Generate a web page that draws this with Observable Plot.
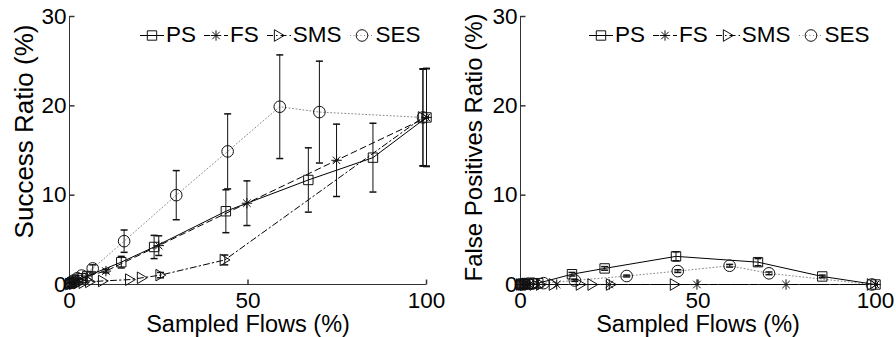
<!DOCTYPE html>
<html><head><meta charset="utf-8">
<script src="https://cdn.jsdelivr.net/npm/d3@7"></script>
<script src="https://cdn.jsdelivr.net/npm/@observablehq/plot@0.6"></script>
<style>
body{margin:0;background:#fff;font-family:"Liberation Sans",Arial,sans-serif;}
#wrap{position:relative;width:896px;height:337px;display:flex;}
.legend{position:absolute;top:23px;display:flex;align-items:center;font-size:22.5px;line-height:24px;white-space:nowrap;color:#000;}
.item{display:flex;align-items:center;margin-right:8px}
.item svg{margin-right:2px;overflow:visible}
</style></head><body><div id="wrap"></div>
<script>
// ---------- data ----------
const seriesNames = ["PS", "FS", "SMS", "SES"];
const xTicks = [0, 50, 100];
const yTicks = [0, 10, 20, 30];

const xPS  = [0.2, 0.6, 1.2, 2.2, 3.5, 5, 14.5, 23.7, 43.8, 66.9, 85, 100];
const xFS  = [0.2, 0.6, 1.2, 2.5, 5, 10.2, 25, 49.7, 74.8, 100];
const xSMS = [0.2, 0.6, 1.2, 2.5, 4, 5.8, 9.4, 17, 20.3, 25.5, 43.5, 99];
const xSES = [0.2, 0.6, 1.2, 2.2, 3.4, 6.5, 15.3, 29.9, 44.3, 58.9, 70, 99];

// Success ratio (%) and error half-widths
const succPS  = [0.1, 0.2, 0.3, 0.5, 0.7, 0.95, 2.5, 4.2, 8.2, 11.7, 14.2, 18.7];
const succErrPS  = [0, 0, 0, 0, 0, 0, 0.65, 1.3, 2.4, 3.6, 3.85, 5.5];
const succFS  = [0.1, 0.2, 0.3, 0.55, 0.95, 1.5, 4.35, 9.1, 13.9, 18.7];
const succErrFS  = [0, 0, 0, 0, 0, 0.2, 1.1, 2.5, 4.05, 5.45];
const succSMS = [0.05, 0.1, 0.1, 0.15, 0.2, 0.3, 0.4, 0.55, 0.75, 1.05, 2.75, 18.7];
const succErrSMS = [0, 0, 0, 0, 0, 0, 0, 0, 0, 0.3, 0.55, 5.4];
const succSES = [0.15, 0.3, 0.45, 0.7, 1.0, 1.8, 4.85, 10.0, 14.9, 19.9, 19.3, 18.7];
const succErrSES = [0, 0, 0, 0, 0, 0.4, 1.25, 2.75, 4.2, 5.8, 5.7, 5.45];

// False positives ratio (%) and error half-widths
const fpPS  = [0, 0.05, 0.05, 0.1, 0.1, 0.15, 1.15, 1.8, 3.15, 2.5, 0.9, 0];
const fpErrPS  = [0, 0, 0, 0, 0, 0, 0.2, 0.2, 0.5, 0.4, 0.15, 0];
const fpFS  = [0, 0, 0, 0, 0, 0, 0, 0, 0, 0];
const fpErrFS  = [0, 0, 0, 0, 0, 0, 0, 0, 0, 0];
const fpSMS = [0, 0, 0, 0, 0, 0, 0, 0, 0, 0, 0, 0];
const fpErrSMS = [0, 0, 0, 0, 0, 0, 0, 0, 0, 0, 0, 0];
const fpSES = [0, 0.05, 0.05, 0.1, 0.1, 0.15, 0.45, 0.95, 1.5, 2.1, 1.25, 0];
const fpErrSES = [0, 0, 0, 0, 0, 0, 0.1, 0.1, 0.15, 0.15, 0.15, 0];

// ---------- symbols ----------
const rad = s => Math.sqrt(s / Math.PI);
const symSquare = {draw(c, s){const r = rad(s); c.moveTo(-r,-r); c.lineTo(r,-r); c.lineTo(r,r); c.lineTo(-r,r); c.closePath();}};
const symStar = {draw(c, s){const r = rad(s), d = r*0.72; c.moveTo(-r,0); c.lineTo(r,0); c.moveTo(0,-r); c.lineTo(0,r); c.moveTo(-d,-d); c.lineTo(d,d); c.moveTo(-d,d); c.lineTo(d,-d);}};
const symTri = {draw(c, s){const r = rad(s); c.moveTo(-r*0.8,-r); c.lineTo(r*0.9,0); c.lineTo(-r*0.8,r); c.closePath();}};
const symCircle = {draw(c, s){const r = rad(s); c.moveTo(r,0); c.arc(0,0,r,0,2*Math.PI); c.closePath();}};
const symCap = {draw(c, s){const r = rad(s); c.moveTo(-r,0); c.lineTo(r,0);}};
const symYTick = {draw(c, s){const r = rad(s); c.moveTo(0,0); c.lineTo(r,0);}};
const symXTick = {draw(c, s){const r = rad(s); c.moveTo(0,0); c.lineTo(0,-r);}};

const styles = {
  PS:  {symbol: symSquare, r: 4.7, line: "#000", dash: null, width: 1},
  FS:  {symbol: symStar,   r: 5.2, line: "#000", dash: "6,4", width: 1},
  SMS: {symbol: symTri,    r: 5.8, line: "#000", dash: "6,3,1.5,3", width: 1},
  SES: {symbol: symCircle, r: 5.8, line: "#8a8a8a", dash: "1,2.5", width: 1}
};

function rows(xs, ys, es){ return xs.map((x, i) => ({x, y: ys[i], e: es[i]})); }

function panel({ml, mr, ylabel, lfs, ldx, ldy, data}){
  const marks = [
    Plot.ruleX([0], {stroke: "#333"}),
    Plot.ruleY([0], {stroke: "#333"}),
    Plot.dot(yTicks, {x: 0, y: d => d, symbol: symYTick, r: 5, stroke: "#333", fill: "none"}),
    Plot.dot(xTicks, {x: d => d, y: 0, symbol: symXTick, r: 5, stroke: "#333", fill: "none"}),
    Plot.axisY({ticks: yTicks, tickSize: 0, tickPadding: 3, label: null}),
    Plot.axisX({ticks: xTicks, tickSize: 0, tickPadding: 8, label: null}),
    Plot.text([ylabel], {text: d => d, frameAnchor: "left", textAnchor: "middle", lineAnchor: "middle", rotate: -90, dx: ldx, dy: ldy, fontSize: lfs}),
    Plot.text(["Sampled Flows (%)"], {text: d => d, frameAnchor: "bottom", textAnchor: "middle", lineAnchor: "middle", dy: 40, fontSize: 23.5})
  ];
  for (const name of seriesNames){
    const st = styles[name], d = data[name];
    marks.push(Plot.line(d, {x: "x", y: "y", stroke: st.line, strokeWidth: st.width, strokeDasharray: st.dash}));
  }
  for (const name of seriesNames){
    const d = data[name].filter(p => p.e > 0);
    marks.push(Plot.ruleX(d, {x: "x", y1: p => p.y - p.e, y2: p => p.y + p.e, stroke: "#111"}));
    marks.push(Plot.dot(d, {x: "x", y: p => p.y - p.e, symbol: symCap, r: 3.5, stroke: "#111", fill: "none"}));
    marks.push(Plot.dot(d, {x: "x", y: p => p.y + p.e, symbol: symCap, r: 3.5, stroke: "#111", fill: "none"}));
  }
  for (const name of seriesNames){
    const st = styles[name];
    marks.push(Plot.dot(data[name], {x: "x", y: "y", symbol: st.symbol, r: st.r, stroke: "#111", fill: "none", strokeWidth: 1}));
  }
  return Plot.plot({
    width: 448, height: 337,
    marginLeft: ml, marginRight: mr, marginTop: 16, marginBottom: 53,
    x: {domain: [0, 100]}, y: {domain: [0, 30]},
    style: {fontSize: "22.5px", fontFamily: "'Liberation Sans', Arial, sans-serif", color: "#000", background: "#fff", overflow: "visible"},
    marks
  });
}

function legend(left){
  const div = document.createElement("div");
  div.className = "legend";
  div.style.left = left + "px";
  for (const name of seriesNames){
    const st = styles[name];
    const item = document.createElement("div");
    item.className = "item";
    const p = d3.path();
    st.symbol.draw(p, st.r * st.r * Math.PI);
    const svg = d3.create("svg").attr("width", 24).attr("height", 20);
    svg.append("line").attr("x1", 0).attr("x2", 24).attr("y1", 10.5).attr("y2", 10.5)
      .attr("stroke", st.line).attr("stroke-dasharray", st.dash);
    svg.append("path").attr("d", p.toString()).attr("transform", "translate(12,10.5)")
      .attr("fill", "none").attr("stroke", "#111");
    item.appendChild(svg.node());
    const t = document.createElement("span");
    t.textContent = name;
    item.appendChild(t);
    div.appendChild(item);
  }
  return div;
}

const wrap = document.getElementById("wrap");
wrap.appendChild(panel({
  ml: 69, mr: 22, ylabel: "Success Ratio (%)", lfs: 26, ldx: -45, ldy: -19,
  data: {PS: rows(xPS, succPS, succErrPS), FS: rows(xFS, succFS, succErrFS), SMS: rows(xSMS, succSMS, succErrSMS), SES: rows(xSES, succSES, succErrSES)}
}));
wrap.appendChild(panel({
  ml: 72, mr: 21, ylabel: "False Positives Ratio (%)", lfs: 24, ldx: -46, ldy: -3,
  data: {PS: rows(xPS, fpPS, fpErrPS), FS: rows(xFS, fpFS, fpErrFS), SMS: rows(xSMS, fpSMS, fpErrSMS), SES: rows(xSES, fpSES, fpErrSES)}
}));
wrap.appendChild(legend(140));
wrap.appendChild(legend(589));
</script>
</body></html>
